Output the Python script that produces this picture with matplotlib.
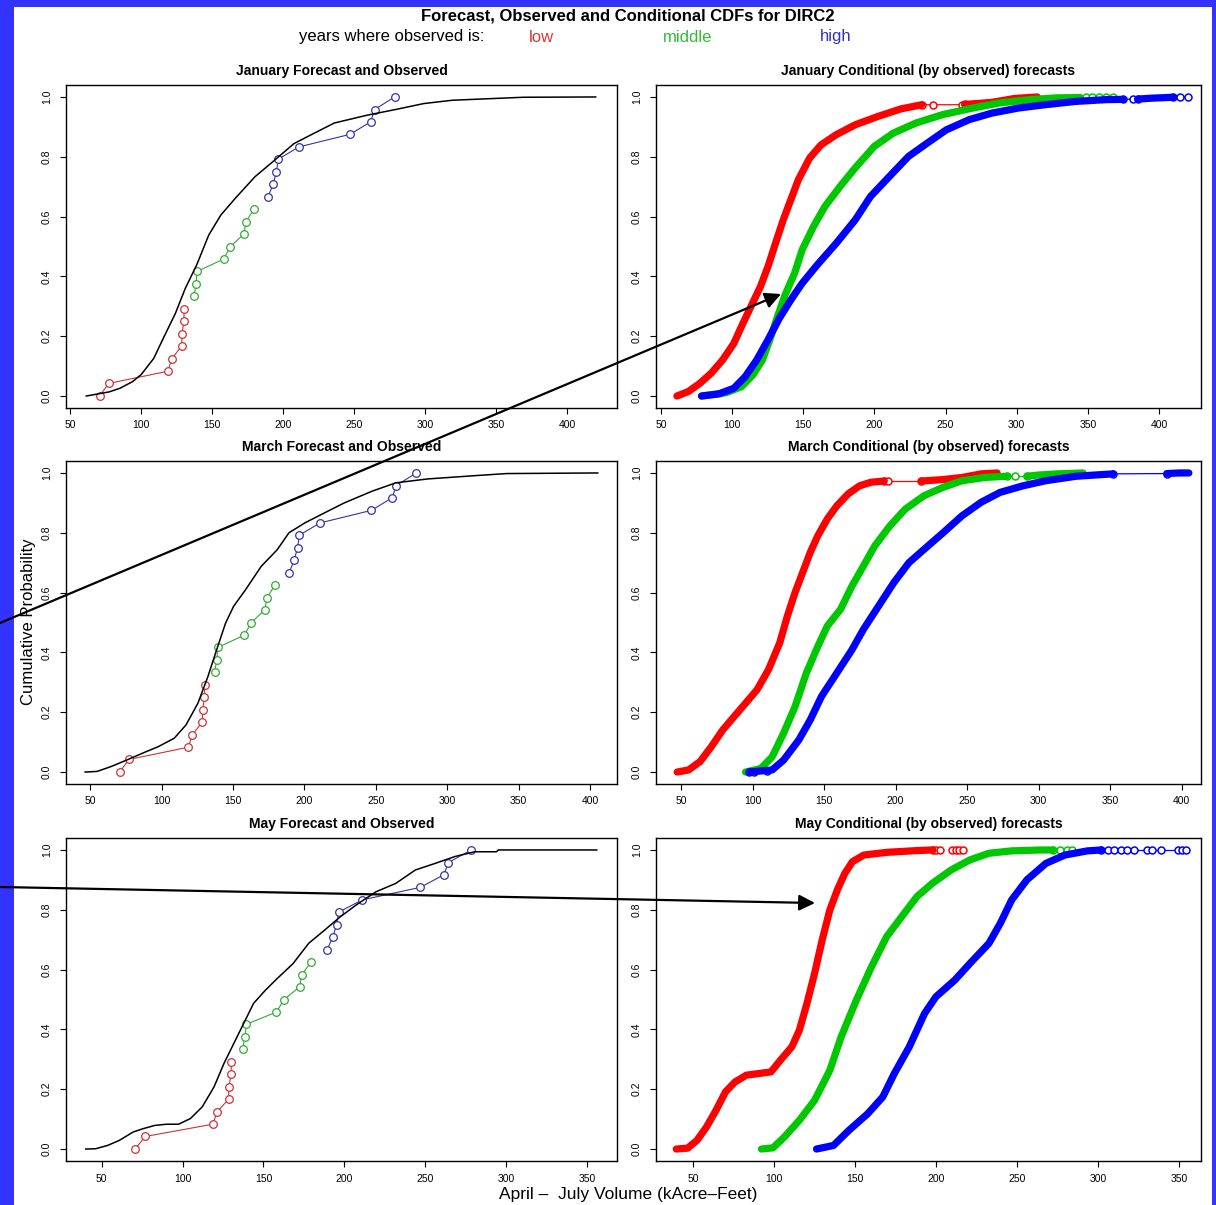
# Forecast, observed and conditional CDFs for DIRC2 (April-July volume)
import matplotlib
matplotlib.use('Agg')
from matplotlib import pyplot as plt
from matplotlib.patches import Rectangle

nan = float('nan')
W, H = 1216, 1205

plt.rcParams['font.family'] = ['Liberation Sans', 'DejaVu Sans']

# observed volumes (sorted) and their cumulative probability, same in all left panels
obs_low_x = [70.7, 77.0, 118.7, 121.5, 128.5, 128.7, 130.0, 130.2]
obs_low_p = [0.0, 0.042, 0.083, 0.125, 0.167, 0.208, 0.25, 0.292]
obs_mid_x = [137.2, 138.5, 139.5, 158.0, 162.8, 172.3, 173.7, 179.4]
obs_mid_p = [0.333, 0.375, 0.417, 0.458, 0.5, 0.542, 0.583, 0.625]
obs_high_x = [189.4, 192.8, 195.2, 196.5, 211.0, 247.0, 261.5, 264.3, 278.4]
obs_high_p = [0.667, 0.708, 0.75, 0.792, 0.833, 0.875, 0.917, 0.958, 1.0]

# forecast CDFs (black)
jan_fc_x = [61.3, 77.5, 85.0, 93.8, 100.0, 108.8, 116.0, 124.0, 131.0, 139.0, 147.5, 156.0, 166.0,
            180.0, 194.0, 207.5, 221.0, 236.0, 259.0, 279.0, 299.0, 319.0, 344.0, 369.0, 420.0]
jan_fc_p = [0.0, 0.014, 0.026, 0.048, 0.072, 0.126, 0.198, 0.276, 0.36, 0.438, 0.538, 0.605, 0.66,
            0.733, 0.789, 0.844, 0.877, 0.913, 0.939, 0.958, 0.978, 0.989, 0.994, 0.999, 1.0]
mar_fc_x = [46.4, 54.7, 64.4, 75.5, 86.6, 97.7, 108.8, 117.0, 125.4, 132.4, 139.3, 144.8, 150.4,
            158.7, 169.8, 180.9, 189.2, 200.3, 211.4, 228.0, 247.4, 264.0, 286.3, 319.5, 341.7, 405.5]
mar_fc_p = [0.0, 0.002, 0.018, 0.04, 0.063, 0.085, 0.113, 0.157, 0.23, 0.319, 0.42, 0.498, 0.554,
            0.609, 0.688, 0.743, 0.8, 0.833, 0.86, 0.9, 0.939, 0.967, 0.98, 0.991, 0.998, 1.0]
may_fc_x = [40.2, 46.3, 53.7, 61.0, 69.5, 75.6, 82.9, 90.2, 97.6, 104.9, 112.2, 119.5, 125.6, 131.7,
            137.8, 143.9, 151.2, 158.5, 168.3, 178.0, 187.8, 197.6, 207.3, 219.5, 231.7, 243.9, 256.1,
            268.3, 280.5, 294.0, 295.1, 356.0]
may_fc_p = [0.0, 0.001, 0.012, 0.029, 0.057, 0.068, 0.079, 0.083, 0.083, 0.102, 0.141, 0.208, 0.286,
            0.353, 0.42, 0.487, 0.531, 0.57, 0.62, 0.688, 0.732, 0.777, 0.816, 0.86, 0.888, 0.933,
            0.955, 0.978, 0.994, 0.994, 1.0, 1.0]

# conditional forecast CDFs: dense part (nan = gap) and sparse tail points
jan_low_x = [61.2, 69.2, 77.2, 85.2, 93.2, 101.2, 106.5, 113.2, 119.9, 125.2, 130.5, 135.9, 141.2,
             146.5, 154.5, 162.5, 173.2, 186.5, 202.5, 218.5, 233.2, nan, 263.5, 282.5, 298.5, 314.5]
jan_low_p = [0.0, 0.015, 0.042, 0.076, 0.12, 0.176, 0.232, 0.299, 0.366, 0.433, 0.511, 0.589, 0.656,
             0.723, 0.796, 0.84, 0.874, 0.907, 0.935, 0.96, 0.974, nan, 0.975, 0.982, 0.995, 1.0]
jan_low_tail_x = [233.2, 241.0, 261.5, 263.5]
jan_low_tail_p = [0.974, 0.974, 0.974, 0.975]
jan_mid_x = [78.5, 95.9, 106.5, 114.5, 121.2, 126.5, 131.9, 137.2, 143.9, 149.2, 157.2, 165.2, 175.9,
             186.5, 199.9, 213.2, 229.2, 247.9, 269.2, 287.9, 309.2, 327.9, 344.4]
jan_mid_p = [0.0, 0.011, 0.031, 0.07, 0.12, 0.188, 0.266, 0.338, 0.411, 0.489, 0.567, 0.634, 0.701,
             0.763, 0.835, 0.879, 0.913, 0.941, 0.963, 0.98, 0.991, 0.997, 0.998]
jan_mid_tail_x = [344.4, 349.0, 353.0, 358.0, 362.5, 367.6]
jan_mid_tail_p = [0.998, 0.999, 1.0, 1.0, 1.0, 1.0]
jan_high_x = [78.5, 90.5, 101.2, 109.2, 117.2, 125.2, 133.2, 141.2, 149.2, 159.9, 173.2, 186.5, 197.2,
              210.5, 223.9, 237.2, 250.5, 266.5, 282.5, 301.2, 319.9, 341.2, 362.5, 374.7, nan,
              385.0, 395.0, 410.0]
jan_high_p = [0.0, 0.007, 0.026, 0.065, 0.12, 0.188, 0.26, 0.321, 0.377, 0.439, 0.511, 0.589, 0.667,
              0.734, 0.801, 0.846, 0.89, 0.924, 0.946, 0.963, 0.974, 0.985, 0.991, 0.992, nan,
              0.993, 0.996, 0.999]
jan_high_tail_x = [374.7, 381.7, 385.0, nan, 410.0, 414.7, 420.3]
jan_high_tail_p = [0.992, 0.993, 0.993, nan, 0.999, 1.0, 1.0]

mar_low_x = [47.3, 55.3, 63.3, 71.2, 79.2, 87.2, 95.1, 103.1, 111.1, 119.0, 124.3, 129.7, 135.0,
             140.3, 145.6, 152.2, 158.9, 166.8, 174.8, 182.8, 192.1, nan, 218.0, 233.2, 246.5,
             259.8, 271.0]
mar_low_p = [0.0, 0.007, 0.035, 0.085, 0.141, 0.186, 0.23, 0.275, 0.342, 0.432, 0.521, 0.6, 0.667,
             0.734, 0.79, 0.846, 0.89, 0.93, 0.957, 0.969, 0.973, nan, 0.973, 0.978, 0.985, 0.997, 1.0]
mar_low_tail_x = [192.1, 194.5, 218.0]
mar_low_tail_p = [0.973, 0.973, 0.973]
mar_mid_x = [95.1, 105.8, 113.7, 121.7, 129.7, 137.6, 145.6, 152.2, 161.5, 169.5, 177.5, 185.4, 196.0,
             206.7, 219.9, 233.2, 246.5, 262.4, 277.8, nan, 291.8, 299.6, 312.9, 331.0]
mar_mid_p = [0.0, 0.012, 0.051, 0.13, 0.219, 0.331, 0.42, 0.488, 0.544, 0.622, 0.689, 0.756, 0.823,
             0.879, 0.924, 0.952, 0.974, 0.985, 0.989, nan, 0.989, 0.993, 0.997, 1.0]
mar_mid_tail_x = [277.8, 283.4, 291.8]
mar_mid_tail_p = [0.989, 0.989, 0.989]
mar_high_x = [97.8, 113.7, 121.7, 132.3, 140.3, 148.2, 158.9, 169.5, 177.5, 188.1, 198.7, 209.3, 220.0,
              233.2, 246.5, 259.8, 273.0, 289.0, 304.9, 326.2, 352.0, nan, 389.6, 398.0, 405.0]
mar_high_p = [0.0, 0.007, 0.04, 0.107, 0.174, 0.253, 0.331, 0.409, 0.477, 0.555, 0.633, 0.7, 0.745,
              0.8, 0.857, 0.902, 0.935, 0.957, 0.974, 0.989, 0.997, nan, 0.998, 1.0, 1.0]
mar_high_tail_x = [97.8, 101.0, 110.0, nan, 352.0, 389.6]
mar_high_tail_p = [0.0, 0.0, 0.003, nan, 0.997, 0.998]

may_low_x = [39.5, 46.5, 52.3, 58.2, 64.0, 69.9, 75.7, 82.8, 89.8, 98.0, 103.8, 110.9, 115.5, 120.2,
             124.9, 129.6, 134.3, 139.0, 143.6, 148.3, 155.3, 169.4, 188.1, 198.0]
may_low_p = [0.0, 0.003, 0.029, 0.074, 0.129, 0.191, 0.224, 0.247, 0.252, 0.258, 0.297, 0.342, 0.397,
             0.487, 0.587, 0.699, 0.799, 0.867, 0.922, 0.961, 0.983, 0.992, 0.998, 1.0]
may_low_tail_x = [198.0, 200.0, 202.5, nan, 209.6, 212.0, 214.2, 216.4]
may_low_tail_p = [1.0, 1.0, 1.0, nan, 1.0, 1.0, 1.0, 1.0]
may_mid_x = [92.1, 99.2, 106.2, 115.5, 124.9, 134.3, 141.3, 150.7, 160.0, 169.4, 178.7, 188.1, 197.5,
             209.2, 220.9, 232.6, 246.6, 265.4, 272.0]
may_mid_p = [0.0, 0.004, 0.04, 0.096, 0.163, 0.263, 0.375, 0.498, 0.609, 0.71, 0.777, 0.844, 0.888,
             0.933, 0.967, 0.989, 0.997, 1.0, 1.0]
may_mid_tail_x = [272.0, 276.5, 280.5, 284.1]
may_mid_tail_p = [1.0, 1.0, 1.0, 1.0]
may_high_x = [126.1, 136.6, 146.0, 157.7, 167.0, 174.1, 183.4, 192.8, 199.8, 211.5, 220.9, 232.6,
              239.6, 246.6, 256.0, 267.7, 279.4, 293.4, 302.0]
may_high_p = [0.0, 0.012, 0.062, 0.118, 0.174, 0.252, 0.342, 0.453, 0.509, 0.565, 0.621, 0.688,
              0.755, 0.833, 0.9, 0.955, 0.983, 0.997, 1.0]
may_high_tail_x = [302.0, 306.0, 310.0, 314.0, 318.0, 322.0, 330.0, 333.5, 339.0, 349.0, 351.5, 354.3]
may_high_tail_p = [1.0] * 12

month_titles = ['January', 'March', 'May']
yticks = [0.0, 0.2, 0.4, 0.6, 0.8, 1.0]

OBS_C = {'low': '#cc3333', 'mid': '#33aa33', 'high': '#3333aa'}
COND_C = {'low': '#ff0000', 'mid': '#00c800', 'high': '#0000ff'}

fig = plt.figure(figsize=(W / 100, H / 100), dpi=100, facecolor='#3333ff')
fig.add_artist(Rectangle((14 / W, 0), (1212 - 14) / W, 1 - 7 / H, transform=fig.transFigure,
                         facecolor='white', edgecolor='none', zorder=-5))


def px_axes(x0, y0, x1, y1):
    return fig.add_axes([x0 / W, 1 - y1 / H, (x1 - x0) / W, (y1 - y0) / H])


def style(ax, xlim, xticks, title):
    ax.set_xlim(xlim)
    ax.set_ylim(-0.04, 1.04)
    ax.set_xticks(xticks)
    ax.set_xticklabels([str(t) for t in xticks], fontsize=7.5)
    ax.set_yticks(yticks)
    ax.set_yticklabels(['%.1f' % t for t in yticks], rotation=90, va='center', fontsize=7.5)
    ax.tick_params(direction='out', length=4, width=0.8)
    ax.tick_params(axis='x', pad=5)
    ax.tick_params(axis='y', pad=6)
    for s in ax.spines.values():
        s.set_linewidth(1.0)
    ax.annotate(title, xy=(0.5, 1), xycoords='axes fraction', xytext=(0, 10),
                textcoords='offset points', ha='center', va='center',
                fontweight='bold', fontsize=10)


def left_panel(ax, fx, fp):
    for key, xs, ps in [('low', obs_low_x, obs_low_p), ('mid', obs_mid_x, obs_mid_p),
                        ('high', obs_high_x, obs_high_p)]:
        ax.plot(xs, ps, '-', color=OBS_C[key], lw=0.8, zorder=2)
        ax.plot(xs, ps, 'o', mfc='white', mec=OBS_C[key], ms=5.5, mew=0.9, zorder=3)
    ax.plot(fx, fp, color='black', lw=1.1, zorder=4)


def right_panel(ax, series):
    for key, x, p, tx, tp in series:
        c = COND_C[key]
        ax.plot(tx, tp, '-', color=c, lw=0.9)
        ax.plot(tx, tp, 'o', mfc='white', mec=c, ms=5, mew=1.1)
        ax.plot(x, p, '-', color=c, lw=5.2, solid_capstyle='round', solid_joinstyle='round')


rows = [(85, 408), (461, 784), (838, 1161)]
left_xlim = [(47.0, 435.0), (33.0, 419.0), (28.0, 368.5)]
right_xlim = [(46.5, 429.5), (32.5, 413.5), (27.0, 363.5)]
xt_400 = [50, 100, 150, 200, 250, 300, 350, 400]
xt_350 = [50, 100, 150, 200, 250, 300, 350]
left_xt = [xt_400, xt_400, xt_350]

fc_data = [(jan_fc_x, jan_fc_p), (mar_fc_x, mar_fc_p), (may_fc_x, may_fc_p)]
cond_data = [
    [('low', jan_low_x, jan_low_p, jan_low_tail_x, jan_low_tail_p),
     ('mid', jan_mid_x, jan_mid_p, jan_mid_tail_x, jan_mid_tail_p),
     ('high', jan_high_x, jan_high_p, jan_high_tail_x, jan_high_tail_p)],
    [('low', mar_low_x, mar_low_p, mar_low_tail_x, mar_low_tail_p),
     ('mid', mar_mid_x, mar_mid_p, mar_mid_tail_x, mar_mid_tail_p),
     ('high', mar_high_x, mar_high_p, mar_high_tail_x, mar_high_tail_p)],
    [('low', may_low_x, may_low_p, may_low_tail_x, may_low_tail_p),
     ('mid', may_mid_x, may_mid_p, may_mid_tail_x, may_mid_tail_p),
     ('high', may_high_x, may_high_p, may_high_tail_x, may_high_tail_p)],
]

for i, (y0, y1) in enumerate(rows):
    axl = px_axes(66, y0, 617, y1)
    left_panel(axl, *fc_data[i])
    style(axl, left_xlim[i], left_xt[i], month_titles[i] + ' Forecast and Observed')

    axr = px_axes(656, y0, 1201, y1)
    right_panel(axr, cond_data[i])
    style(axr, right_xlim[i], left_xt[i], month_titles[i] + ' Conditional (by observed) forecasts')

# overlay in pixel coordinates for titles, labels and arrows
ov = fig.add_axes([0, 0, 1, 1], zorder=20)
ov.set_xlim(0, W)
ov.set_ylim(H, 0)
ov.axis('off')

ov.text(628, 16, 'Forecast, Observed and Conditional CDFs for DIRC2', ha='center', va='center',
        fontsize=12, fontweight='bold')
ov.text(392, 37, 'years where observed is:', ha='center', va='center', fontsize=12)
ov.text(541, 37, 'low', ha='center', va='center', fontsize=12, color='#dd3333')
ov.text(688, 37, 'middle', ha='center', va='center', fontsize=12, color='#33bb33')
ov.text(836, 37, 'high', ha='center', va='center', fontsize=12, color='#3333bb')
ov.text(29, 622, 'Cumulative Probability', ha='center', va='center', rotation=90, fontsize=12)
ov.text(628, 1194, 'April \u2013  July Volume (kAcre\u2013Feet)', ha='center', va='center',
        fontsize=12.5)

arrow = dict(arrowstyle='-|>', color='black', lw=1.6, mutation_scale=24, shrinkA=0, shrinkB=0)
ov.annotate('', xy=(781, 294), xytext=(0, 623), arrowprops=arrow)
ov.annotate('', xy=(815, 903), xytext=(0, 887), arrowprops=arrow)

fig.savefig('out.png', dpi=100, facecolor=fig.get_facecolor())
